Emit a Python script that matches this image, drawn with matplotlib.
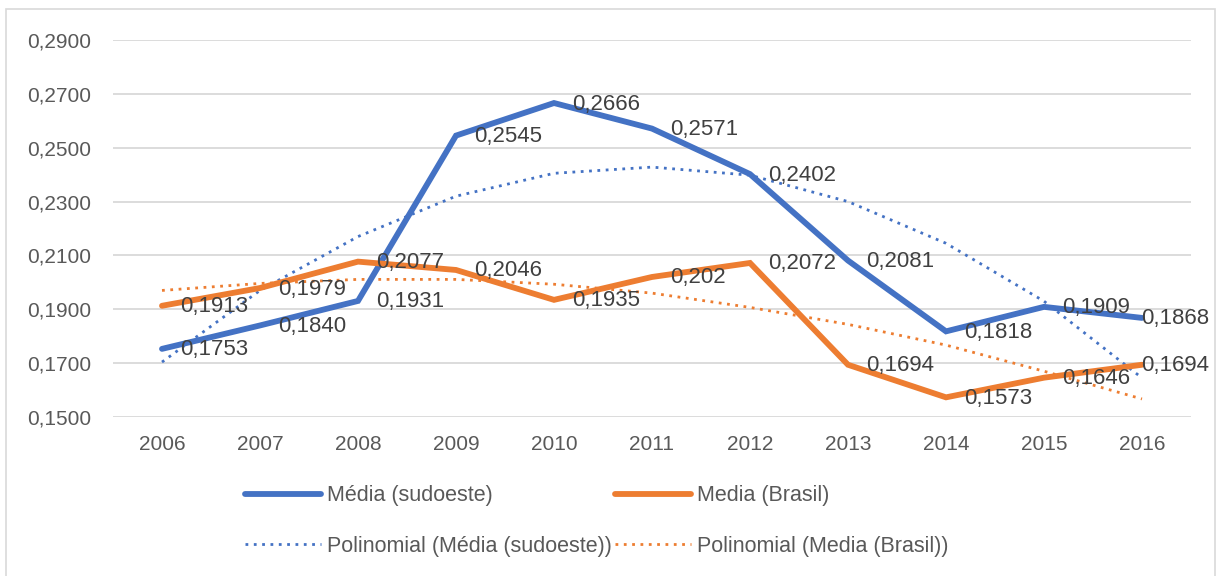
import numpy as np
import matplotlib.pyplot as plt
from matplotlib.patches import Rectangle

# data
anos = ["2006", "2007", "2008", "2009", "2010", "2011", "2012", "2013", "2014", "2015", "2016"]
media_sudoeste = [0.1753, 0.1840, 0.1931, 0.2545, 0.2666, 0.2571, 0.2402, 0.2081, 0.1818, 0.1909, 0.1868]
media_brasil = [0.1913, 0.1979, 0.2077, 0.2046, 0.1935, 0.202, 0.2072, 0.1694, 0.1573, 0.1646, 0.1694]
# polynomial trendlines as drawn in the picture
poli_sudoeste = [0.1704, 0.1970, 0.2170, 0.2320, 0.2405, 0.2428, 0.2398, 0.2300, 0.2145, 0.1930, 0.1645]
poli_brasil = [0.1970, 0.1996, 0.2011, 0.2011, 0.1993, 0.1960, 0.1907, 0.1844, 0.1767, 0.1670, 0.1567]
y_ticks = [0.15, 0.17, 0.19, 0.21, 0.23, 0.25, 0.27, 0.29]

AZUL = "#4472C4"
LARANJA = "#ED7D31"
CINZA = "#595959"

plt.rcParams["font.family"] = ["Liberation Sans", "DejaVu Sans"]

W, H = 1217, 576
fig = plt.figure(figsize=(W / 100, H / 100), dpi=100)
ax = fig.add_axes([113 / W, 1 - 417 / H, (1191 - 113) / W, (417 - 40) / H])

# chart border
fig.patches.append(Rectangle((6 / W, -0.1), (1215 - 6) / W, 1.1 - 9 / H,
                             transform=fig.transFigure, fill=False,
                             edgecolor="#d9d9d9", linewidth=1.2))

x = np.arange(len(anos))
l1, = ax.plot(x, media_sudoeste, color=AZUL, lw=4.2, solid_capstyle="round",
              solid_joinstyle="miter", label="Média (sudoeste)", zorder=3)
l2, = ax.plot(x, media_brasil, color=LARANJA, lw=4.2, solid_capstyle="round",
              solid_joinstyle="miter", label="Media (Brasil)", zorder=3)
l3, = ax.plot(x, poli_sudoeste, color=AZUL, lw=2, ls=(0, (1, 2)),
              label="Polinomial (Média (sudoeste))", zorder=2)
l4, = ax.plot(x, poli_brasil, color=LARANJA, lw=2, ls=(0, (1, 2)),
              label="Polinomial (Media (Brasil))", zorder=2)

# data labels: sudoeste keeps 4 decimals, Brasil uses general format
for serie, fmt in ((media_sudoeste, "{:.4f}"), (media_brasil, "{:g}")):
    for xi, v in zip(x, serie):
        # Excel pulls the last label back inside the chart area
        dx = 18 if xi < len(anos) - 1 else -1
        ax.annotate(fmt.format(v).replace(".", ","), (xi, v), xytext=(dx, -1),
                    textcoords="offset pixels", ha="left", va="center",
                    fontsize=16, color="#404040", zorder=4, annotation_clip=False)

ax.set_xlim(-0.5, len(anos) - 0.5)
ax.set_ylim(0.15, 0.29)
ax.set_yticks(y_ticks)
ax.set_yticklabels([f"{t:.4f}".replace(".", ",") for t in y_ticks])
ax.set_xticks(x)
ax.set_xticklabels(anos)
ax.tick_params(axis="both", length=0, labelsize=15, colors=CINZA)
ax.tick_params(axis="y", pad=16)
ax.tick_params(axis="x", pad=13)
ax.grid(axis="y", color="#d9d9d9", lw=1.3)
ax.set_axisbelow(True)
for s in ax.spines.values():
    s.set_visible(False)

fig.legend(handles=[l1, l3, l2, l4], ncol=2, loc="center",
           bbox_to_anchor=(597 / W, 1 - 521 / H), frameon=False,
           fontsize=15.5, labelcolor=CINZA, handlelength=3.5, handletextpad=0.3,
           columnspacing=0.15, labelspacing=1.35)

fig.savefig("out.png", dpi=100)
